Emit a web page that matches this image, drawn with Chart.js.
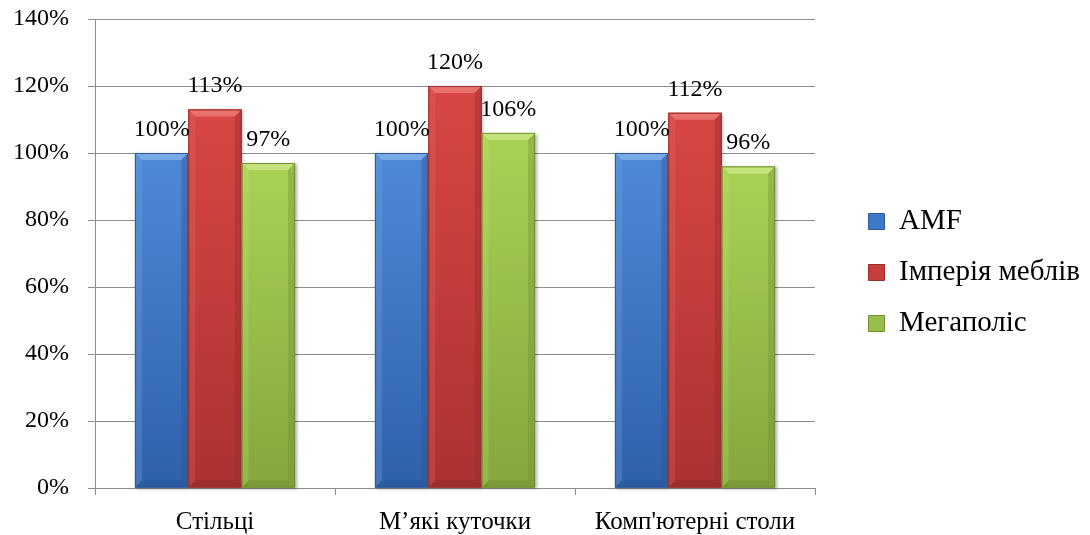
<!DOCTYPE html>
<html>
<head>
<meta charset="utf-8">
<script src="https://cdn.jsdelivr.net/npm/chart.js@4.4.1/dist/chart.umd.min.js"></script>
<style>
  html, body { margin: 0; padding: 0; background: #ffffff; }
  #wrap { width: 1090px; height: 535px; position: relative; }
</style>
</head>
<body>
<div id="wrap"><canvas id="chart"></canvas></div>
<script>
// Categories, series and axis ticks
const categories = ['Стільці', 'М’які куточки', "Комп'ютерні столи"];
const seriesNames = ['AMF', 'Імперія меблів', 'Мегаполіс'];
const amfValues = [100, 100, 100];
const imperiyaValues = [113, 120, 112];
const megapolisValues = [97, 106, 96];
const yTickValues = [0, 20, 40, 60, 80, 100, 120, 140];

const FONT = '"Liberation Serif", "Times New Roman", serif';

// Bevelled bar shading per series
const palettes = [
  { base: '#3f78c6', top: '#4f8ad8', bottom: '#2f61aa', light: '#78aaea', dark: '#2a5696', edge: '#2b5a9c' },
  { base: '#c63d3b', top: '#d94744', bottom: '#aa3231', light: '#e8716e', dark: '#962b2a', edge: '#9a2e2d' },
  { base: '#98bf4c', top: '#a9d255', bottom: '#84a63e', light: '#c4e37d', dark: '#74933a', edge: '#72902f' }
];

const bevelPlugin = {
  id: 'bevelBars',
  afterDatasetsDraw(chart) {
    const ctx = chart.ctx;
    chart.data.datasets.forEach((ds, i) => {
      const meta = chart.getDatasetMeta(i);
      if (meta.hidden) return;
      const pal = palettes[i];
      meta.data.forEach(bar => {
        const p = bar.getProps(['x', 'y', 'base', 'width'], true);
        const l = p.x - p.width / 2, r = p.x + p.width / 2, t = p.y, b = p.base;
        const d = Math.min(7, (b - t) / 2);
        ctx.save();
        ctx.shadowColor = 'rgba(0,0,0,0.30)';
        ctx.shadowBlur = 3;
        ctx.shadowOffsetX = 1.5;
        ctx.shadowOffsetY = 1;
        const g = ctx.createLinearGradient(0, t, 0, b);
        g.addColorStop(0, pal.top);
        g.addColorStop(1, pal.bottom);
        ctx.fillStyle = g;
        ctx.fillRect(l, t, p.width, b - t);
        ctx.restore();

        ctx.save();
        // top facet
        ctx.fillStyle = pal.light;
        ctx.beginPath();
        ctx.moveTo(l, t); ctx.lineTo(r, t); ctx.lineTo(r - d, t + d); ctx.lineTo(l + d, t + d);
        ctx.closePath(); ctx.fill();
        // side facets
        ctx.globalAlpha = 0.25;
        ctx.fillStyle = pal.light;
        ctx.beginPath();
        ctx.moveTo(l, t); ctx.lineTo(l + d, t + d); ctx.lineTo(l + d, b - d); ctx.lineTo(l, b);
        ctx.closePath(); ctx.fill();
        ctx.fillStyle = pal.dark;
        ctx.globalAlpha = 0.4;
        ctx.beginPath();
        ctx.moveTo(r, t); ctx.lineTo(r - d, t + d); ctx.lineTo(r - d, b - d); ctx.lineTo(r, b);
        ctx.closePath(); ctx.fill();
        ctx.globalAlpha = 0.6;
        ctx.beginPath();
        ctx.moveTo(l, b); ctx.lineTo(l + d, b - d); ctx.lineTo(r - d, b - d); ctx.lineTo(r, b);
        ctx.closePath(); ctx.fill();
        ctx.globalAlpha = 1;
        ctx.strokeStyle = pal.edge;
        ctx.lineWidth = 1;
        ctx.strokeRect(l + 0.5, t + 0.5, p.width - 1, b - t - 1);
        ctx.restore();
      });
    });
  }
};

// Value labels above each bar
const valueLabelPlugin = {
  id: 'valueLabels',
  afterDatasetsDraw(chart) {
    const ctx = chart.ctx;
    ctx.save();
    ctx.font = '24px ' + FONT;
    ctx.fillStyle = '#000000';
    ctx.textAlign = 'center';
    ctx.textBaseline = 'alphabetic';
    chart.data.datasets.forEach((ds, i) => {
      const meta = chart.getDatasetMeta(i);
      if (meta.hidden) return;
      meta.data.forEach((bar, j) => {
        const p = bar.getProps(['x', 'y'], true);
        ctx.fillText(ds.data[j] + '%', p.x, p.y - 17);
      });
    });
    ctx.restore();
  }
};

const seriesValues = [amfValues, imperiyaValues, megapolisValues];

new Chart(document.getElementById('chart'), {
  type: 'bar',
  data: {
    labels: categories,
    datasets: seriesNames.map((name, i) => ({
      label: name,
      data: seriesValues[i],
      backgroundColor: palettes[i].base,
      borderColor: palettes[i].edge,
      borderWidth: 0,
      categoryPercentage: 0.667,
      barPercentage: 1.0
    }))
  },
  options: {
    responsive: true,
    maintainAspectRatio: false,
    animation: false,
    layout: { padding: { top: 10, right: 0, bottom: 0, left: 0 } },
    plugins: {
      tooltip: { enabled: false },
      legend: {
        position: 'right',
        maxWidth: 300,
        labels: {
          color: '#000000',
          font: { family: FONT, size: 29 },
          boxWidth: 16,
          boxHeight: 16,
          padding: 22,
          generateLabels(chart) {
            return chart.data.datasets.map((ds, i) => ({
              text: ds.label,
              fillStyle: palettes[i].base,
              strokeStyle: palettes[i].edge,
              lineWidth: 1,
              hidden: false,
              datasetIndex: i
            }));
          }
        }
      }
    },
    scales: {
      x: {
        grid: { display: true, drawOnChartArea: false, color: '#8c8c8c', tickLength: 7, offset: true },
        border: { display: true, color: '#8c8c8c', width: 1 },
        ticks: { color: '#000000', font: { family: FONT, size: 25 }, padding: 12 },
        afterFit(scale) { scale.height = 47; }
      },
      y: {
        min: 0,
        max: 140,
        grid: { color: '#8c8c8c', tickLength: 7 },
        border: { display: true, color: '#8c8c8c', width: 1 },
        ticks: {
          color: '#000000',
          font: { family: FONT, size: 24 },
          padding: 19,
          callback: v => v + '%'
        },
        afterBuildTicks(scale) { scale.ticks = yTickValues.map(v => ({ value: v })); },
        afterFit(scale) {
          scale.width = 95;
          scale.paddingTop = 19;
          scale.paddingBottom = 0;
        }
      },
      gap: {
        position: 'right',
        display: true,
        grid: { display: false },
        border: { display: false },
        ticks: { display: false },
        afterFit(scale) { scale.width = Math.max(0, 1090 - 815 - scale.chart.legend.width); }
      }
    }
  },
  plugins: [bevelPlugin, valueLabelPlugin]
});
</script>
</body>
</html>
